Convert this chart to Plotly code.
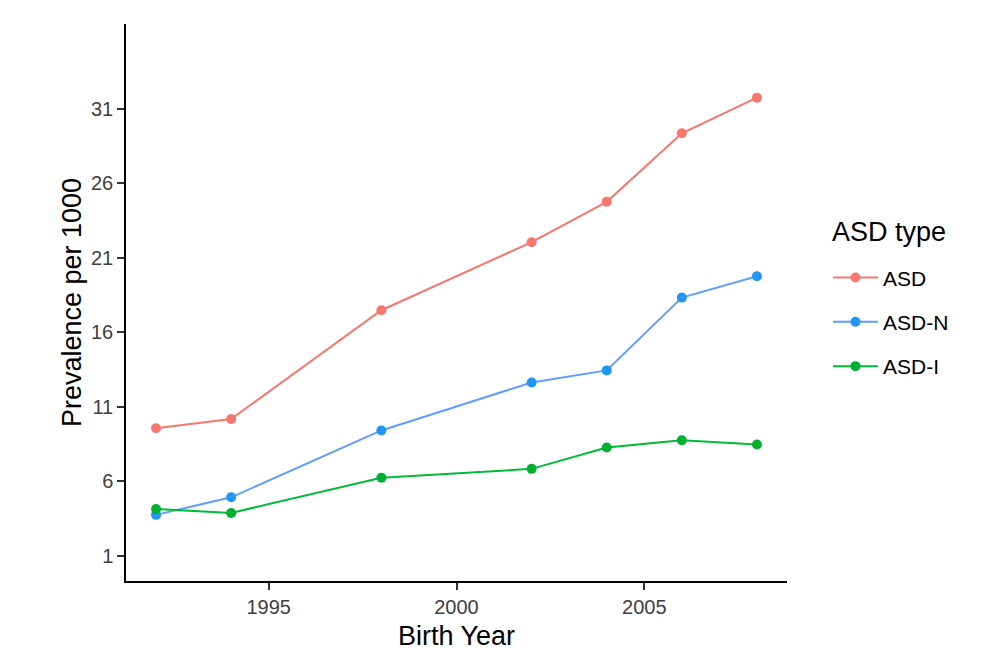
import plotly.graph_objects as go

years = [1992, 1994, 1998, 2002, 2004, 2006, 2008]
asd = [9.56, 10.17, 17.48, 22.05, 24.76, 29.36, 31.75]
asd_n = [3.74, 4.92, 9.41, 12.63, 13.44, 18.33, 19.76]
asd_i = [4.14, 3.87, 6.23, 6.83, 8.26, 8.75, 8.46]

series_names = ["ASD", "ASD-N", "ASD-I"]
line_colors = ["#F8766D", "#619CFF", "#00BA38"]
marker_colors = ["#F8766D", "#2196F3", "#00B030"]
x_ticks = [1995, 2000, 2005]
y_ticks = [1, 6, 11, 16, 21, 26, 31]

fig = go.Figure()
for i, (name, vals) in enumerate(zip(series_names, [asd, asd_n, asd_i])):
    fig.add_trace(go.Scatter(
        x=years, y=vals, name=name, mode="lines+markers",
        line=dict(color=line_colors[i], width=2),
        marker=dict(color=marker_colors[i], size=10),
        legendgroup=name,
    ))

font_family = "Liberation Sans, Arial, sans-serif"
fig.update_layout(
    width=1000, height=666,
    margin=dict(l=118, r=221, t=16, b=93),
    paper_bgcolor="white", plot_bgcolor="white",
    font=dict(family=font_family, color="black"),
    showlegend=True,
    legend=dict(
        x=1.062, y=0.581, xanchor="left", yanchor="top",
        font=dict(size=21, color="black"),
        tracegroupgap=14,
        itemwidth=45,
    ),
    annotations=[dict(
        text="ASD type", xref="paper", yref="paper", x=1.065, y=0.6266,
        xanchor="left", yanchor="middle", showarrow=False,
        font=dict(size=27, color="black"),
    )],
    xaxis=dict(
        range=[1991.2, 2008.8], tickvals=x_ticks, automargin=False,
        showline=True, linecolor="black", linewidth=1.5,
        ticks="outside", ticklen=7, tickwidth=1.5, tickcolor="#333333",
        tickfont=dict(size=20, color="#404040"),
        showgrid=False, zeroline=False,
        title=dict(text="Birth Year", font=dict(size=27, color="black"), standoff=9),
    ),
    yaxis=dict(
        range=[-0.7, 36.7], tickvals=y_ticks, automargin=False,
        showline=True, linecolor="black", linewidth=1.5,
        ticks="outside", ticklen=7, tickwidth=1.5, tickcolor="#333333",
        tickfont=dict(size=20, color="#404040"),
        showgrid=False, zeroline=False,
        title=dict(text="Prevalence per 1000", font=dict(size=27, color="black"), standoff=2),
    ),
)

fig.write_html("out.html")
